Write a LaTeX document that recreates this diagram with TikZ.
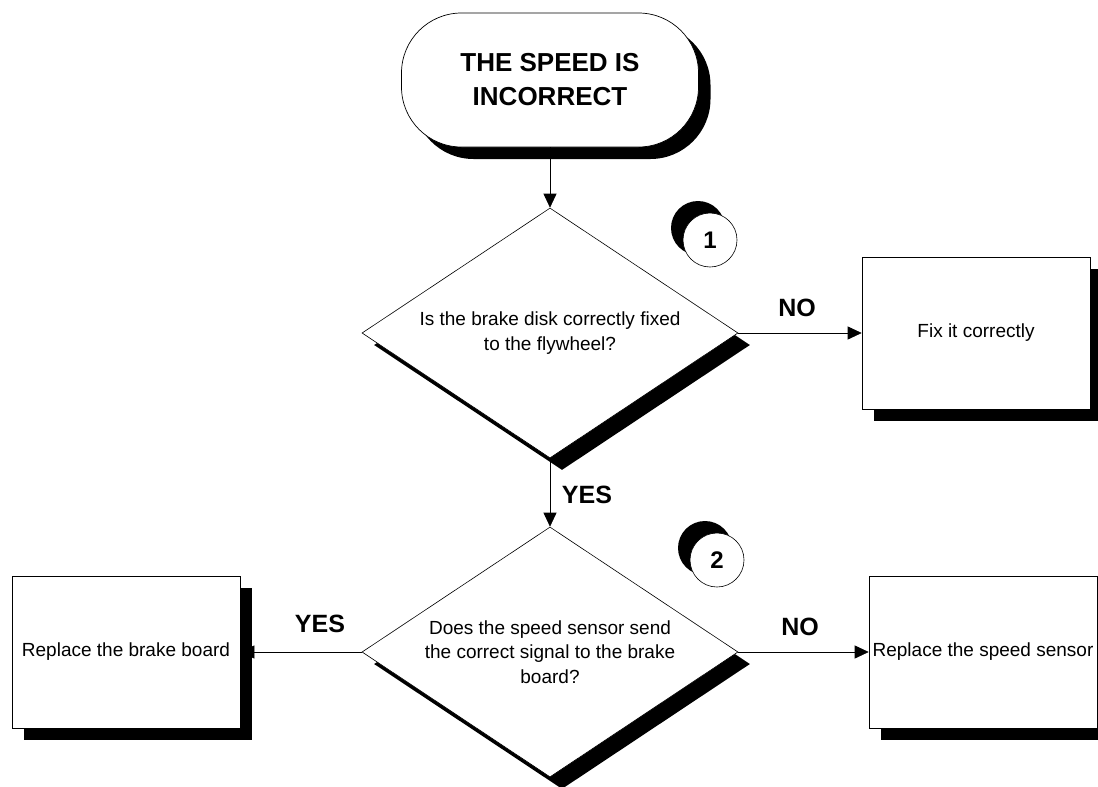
\documentclass[tikz,border=0pt]{standalone}
\usepackage{fontspec}
\setmainfont{Liberation Sans}
\usetikzlibrary{shapes.geometric, shadows, arrows.meta}

\begin{document}
\begin{tikzpicture}[x=1pt, y=-1pt,
    blackshadow/.style={drop shadow={shadow xshift=12pt, shadow yshift=-12pt, fill=black, opacity=1}},
    startbox/.style={draw, fill=white, line width=0.7pt, rounded corners=60pt, minimum width=297pt, minimum height=134pt, align=center, font=\bfseries\fontsize{26}{34}\selectfont, blackshadow},
    question/.style={draw, fill=white, line width=0.6pt, diamond, aspect=1.5, inner sep=0pt, minimum width=376pt, minimum height=250pt, align=center, font=\fontsize{19}{24.5}\selectfont, blackshadow},
    action/.style={draw, fill=white, line width=0.6pt, minimum width=228pt, minimum height=152pt, inner sep=2pt, font=\fontsize{19}{22}\selectfont, blackshadow},
    stepnum/.style={draw, fill=white, circle, line width=0.6pt, minimum size=54pt, inner sep=0pt, font=\bfseries\fontsize{24}{24}\selectfont, drop shadow={shadow xshift=-12pt, shadow yshift=12pt, fill=black, opacity=1}},
    answer/.style={font=\bfseries\fontsize{25}{25}\selectfont},
    flow/.style={line width=0.6pt, -{Triangle[length=14pt, width=13pt]}}]
    \useasboundingbox (0,0) rectangle (1098,787);

    % Start
    \node[startbox] (start) at (550,80) {THE SPEED IS\\INCORRECT};

    % Questions
    \node[question] (q1) at (550,333) {Is the brake disk correctly fixed\\to the flywheel?};
    \node[question] (q2) at (550,652) {Does the speed sensor send\\the correct signal to the brake\\board?};

    % Step numbers
    \foreach \k/\x/\y in {1/710/240, 2/717/560} {
        \node[stepnum] (n\k) at (\x,\y) {\k};
    }

    % Actions
    \node[action] (fix) at (976,333) {Fix it correctly};
    \node[action] (board) at (126,652) {Replace the brake board};
    \node[action] (sensor) at (983,652) {Replace the speed sensor};

    % Connectors
    \draw[flow] (start.south) -- (q1.north);
    \draw[flow] (q1.east) -- (fix.west);
    \draw[flow] (q1.south) -- (q2.north);
    \draw[flow] (q2.west) -- (board.east);
    \draw[flow] (q2.east) -- (sensor.west);

    % Answers
    \node[answer] (no1) at (797,308) {NO};
    \node[answer] (yes1) at (587,495) {YES};
    \node[answer] (yes2) at (320,624) {YES};
    \node[answer] (no2) at (800,627) {NO};
\end{tikzpicture}
\end{document}
